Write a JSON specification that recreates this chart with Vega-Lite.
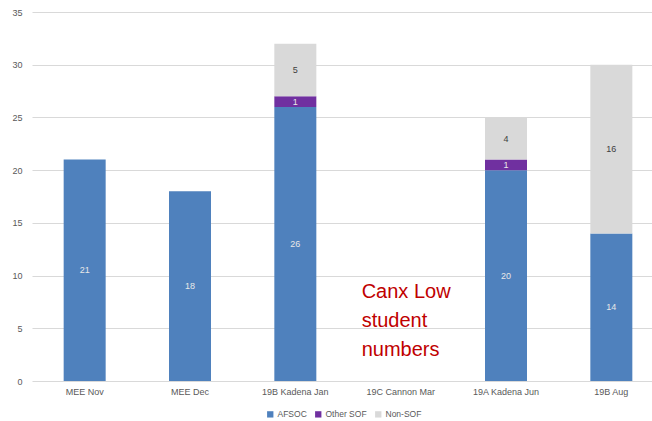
{
  "$schema": "https://vega.github.io/schema/vega-lite/v6.json",
  "autosize": {"type": "none"},
  "padding": {"left": 32, "top": 12, "right": 0, "bottom": 40},
  "width": 632,
  "height": 369,
  "background": "white",
  "config": {
    "view": {"stroke": null},
    "font": "Liberation Sans",
    "axis": {"labelFont": "Liberation Sans", "labelColor": "#595959", "labelFontSize": 9}
  },
  "datasets": {
    "bars": [
      {"course": "MEE Nov", "group": "AFSOC", "n": 21, "ord": 1},
      {"course": "MEE Dec", "group": "AFSOC", "n": 18, "ord": 1},
      {"course": "19B Kadena Jan", "group": "AFSOC", "n": 26, "ord": 1},
      {"course": "19B Kadena Jan", "group": "Other SOF", "n": 1, "ord": 2},
      {"course": "19B Kadena Jan", "group": "Non-SOF", "n": 5, "ord": 3},
      {"course": "19A Kadena Jun", "group": "AFSOC", "n": 20, "ord": 1},
      {"course": "19A Kadena Jun", "group": "Other SOF", "n": 1, "ord": 2},
      {"course": "19A Kadena Jun", "group": "Non-SOF", "n": 4, "ord": 3},
      {"course": "19B Aug", "group": "AFSOC", "n": 14, "ord": 1},
      {"course": "19B Aug", "group": "Non-SOF", "n": 16, "ord": 3}
    ],
    "note": [
      {"course": "19C Cannon Mar", "y": 7.9, "text": ["Canx Low", "student", "numbers"]}
    ]
  },
  "layer": [
    {
      "data": {"name": "bars"},
      "mark": {"type": "bar", "width": 42},
      "encoding": {
        "x": {"field": "course", "type": "nominal", "sort": ["MEE Nov", "MEE Dec", "19B Kadena Jan", "19C Cannon Mar", "19A Kadena Jun", "19B Aug"],
              "scale": {"domain": ["MEE Nov", "MEE Dec", "19B Kadena Jan", "19C Cannon Mar", "19A Kadena Jun", "19B Aug"], "paddingInner": 0, "paddingOuter": 0},
              "axis": {"title": null, "labelAngle": 0, "domain": false, "ticks": false, "labelPadding": 6}},
        "y": {"field": "n", "type": "quantitative", "stack": "zero",
              "scale": {"domain": [0, 35]},
              "axis": {"title": null, "values": [0, 5, 10, 15, 20, 25, 30, 35], "domain": false, "ticks": false, "labelPadding": 10, "gridColor": "#d9d9d9", "gridWidth": 1}},
        "color": {"field": "group", "type": "nominal",
                  "scale": {"domain": ["AFSOC", "Other SOF", "Non-SOF"], "range": ["#4f81bd", "#7030a0", "#d9d9d9"]},
                  "legend": {"orient": "none", "legendX": 234, "legendY": 398, "direction": "horizontal", "title": null, "symbolType": "square", "symbolSize": 40, "labelFontSize": 8.5, "labelColor": "#595959", "labelFont": "Liberation Sans", "columnPadding": 7, "symbolStrokeWidth": 0, "labelOffset": 3}},
        "order": {"field": "ord", "type": "quantitative"}
      }
    },
    {
      "data": {"name": "bars"},
      "mark": {"type": "text", "fontSize": 9, "font": "Liberation Sans"},
      "encoding": {
        "x": {"field": "course", "type": "nominal", "sort": ["MEE Nov", "MEE Dec", "19B Kadena Jan", "19C Cannon Mar", "19A Kadena Jun", "19B Aug"]},
        "y": {"field": "n", "type": "quantitative", "stack": "zero", "bandPosition": 0.5},
        "text": {"field": "n", "type": "quantitative"},
        "order": {"field": "ord", "type": "quantitative"},
        "color": {"condition": {"test": "datum.group === 'Non-SOF'", "value": "#404040"}, "value": "#e8e8e8"}
      }
    },
    {
      "data": {"name": "note"},
      "mark": {"type": "text", "align": "left", "baseline": "alphabetic", "dx": -39, "fontSize": 20, "lineHeight": 29, "color": "#c00000", "font": "Liberation Sans"},
      "encoding": {
        "x": {"field": "course", "type": "nominal"},
        "y": {"field": "y", "type": "quantitative"},
        "text": {"field": "text"}
      }
    }
  ]
}
